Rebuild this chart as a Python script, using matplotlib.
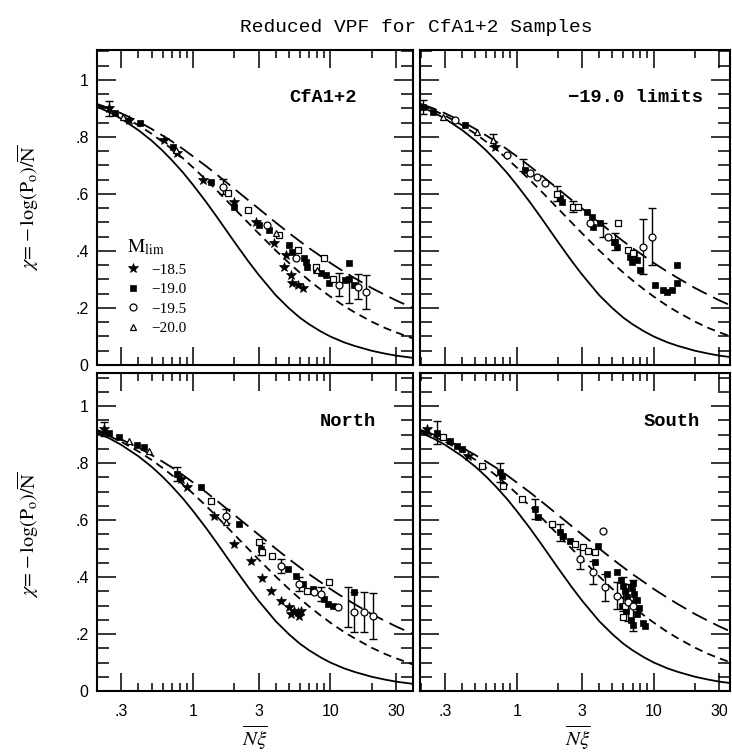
#!/usr/bin/env python3
"""
Reduced void probability function for the CfA1+2 samples.
Four panels: full sample, -19.0 limits, North, South.
"""

import numpy as np
import matplotlib
matplotlib.use('Agg')
import matplotlib.pyplot as plt
from matplotlib.ticker import FixedLocator, LogLocator, MultipleLocator, NullFormatter
from matplotlib.lines import Line2D

plt.rcParams['font.family'] = 'Liberation Sans'
plt.rcParams['mathtext.fontset'] = 'stix'

# ============================================================================
# DATA
# ============================================================================

# model curves: solid / short dash / long dash
curve_nxi = [0.2, 0.25, 0.3, 0.4, 0.5, 0.6, 0.7, 0.85, 1.0, 1.25, 1.5, 2.0, 2.5,
             3.0, 4.0, 5.0, 6.0, 7.0, 8.5, 10.0, 12.5, 15.0, 20.0, 25.0, 30.0, 40.0]
chi_solid = [0.906, 0.885, 0.864, 0.824, 0.787, 0.752, 0.719, 0.674, 0.632, 0.571,
             0.518, 0.432, 0.367, 0.317, 0.245, 0.199, 0.166, 0.143, 0.118, 0.100,
             0.080, 0.067, 0.050, 0.040, 0.033, 0.025]
chi_short = [0.912, 0.893, 0.875, 0.841, 0.811, 0.783, 0.758, 0.724, 0.693, 0.649,
             0.611, 0.549, 0.501, 0.462, 0.402, 0.358, 0.324, 0.297, 0.265, 0.240,
             0.208, 0.185, 0.152, 0.130, 0.115, 0.093]
chi_long = [0.916, 0.899, 0.883, 0.854, 0.828, 0.805, 0.785, 0.757, 0.732, 0.697,
            0.667, 0.618, 0.580, 0.549, 0.500, 0.463, 0.434, 0.410, 0.382, 0.358,
            0.328, 0.305, 0.270, 0.246, 0.227, 0.200]

# --- CfA1+2 (top left) : (Nxi, chi)
cfa_star = [(0.245, 0.90), (0.34, 0.86), (0.62, 0.789), (0.77, 0.743), (1.18, 0.649),
            (2.0, 0.573), (2.87, 0.503), (3.9, 0.427), (4.75, 0.386), (4.6, 0.345),
            (5.16, 0.316), (5.3, 0.287), (5.8, 0.28), (6.28, 0.269)]
cfa_fsq = [(0.27, 0.883), (0.41, 0.848), (0.71, 0.766), (1.35, 0.643), (2.0, 0.555),
           (3.03, 0.491), (3.59, 0.474), (5.02, 0.421), (5.3, 0.398), (6.45, 0.374),
           (6.63, 0.362), (6.82, 0.345), (7.85, 0.333), (8.55, 0.322), (9.3, 0.316),
           (9.8, 0.287), (13.7, 0.357), (12.7, 0.298), (14.9, 0.28), (13.7, 0.30)]
cfa_ocirc = [(1.65, 0.626), (3.48, 0.491), (5.6, 0.374), (11.6, 0.28), (18.2, 0.257),
             (15.8, 0.275)]
cfa_tri = [(0.31, 0.871), (0.75, 0.755), (4.02, 0.462), (8.0, 0.335)]
cfa_osq = [(1.79, 0.602), (2.51, 0.544), (4.24, 0.456), (5.78, 0.404), (9.05, 0.374),
           (7.9, 0.345), (10.5, 0.30)]
cfa_err = [(0.245, 0.90, 0.025), (1.65, 0.626, 0.025), (11.6, 0.281, 0.04),
           (13.7, 0.263, 0.045), (15.8, 0.275, 0.045), (18.2, 0.257, 0.06)]

# --- -19.0 limits (top right)
lim_star = [(0.694, 0.766)]
lim_fsq = [(0.208, 0.906), (0.247, 0.889), (0.42, 0.842), (1.15, 0.684), (2.07, 0.585),
           (2.13, 0.573), (3.24, 0.538), (3.52, 0.52), (3.62, 0.485), (4.05, 0.497),
           (5.22, 0.433), (5.1, 0.43), (5.36, 0.415), (6.7, 0.38), (7.5, 0.368),
           (7.93, 0.333), (10.2, 0.281), (11.7, 0.263), (12.4, 0.257), (13.5, 0.263),
           (14.7, 0.287), (14.7, 0.351), (6.9, 0.36), (7.2, 0.39)]
lim_ocirc = [(0.354, 0.86), (0.845, 0.737), (1.25, 0.673), (1.4, 0.661), (1.61, 0.637),
             (3.43, 0.497), (4.67, 0.45), (8.4, 0.415), (9.66, 0.45)]
lim_tri = [(0.291, 0.871), (0.51, 0.819), (0.675, 0.789)]
lim_osq = [(1.96, 0.60), (2.59, 0.556), (2.81, 0.556), (5.5, 0.497), (6.5, 0.404),
           (7.1, 0.392)]
lim_err = [(0.208, 0.906, 0.025), (0.675, 0.789, 0.02), (1.12, 0.702, 0.02),
           (1.96, 0.602, 0.025), (2.59, 0.556, 0.02), (4.28, 0.474, 0.025),
           (5.22, 0.433, 0.03), (8.4, 0.415, 0.097), (9.66, 0.45, 0.10)]

# --- North (bottom left)
nor_star = [(0.224, 0.919), (0.813, 0.744), (0.908, 0.715), (1.42, 0.615), (1.99, 0.516),
            (2.64, 0.457), (3.2, 0.398), (3.67, 0.352), (4.37, 0.317), (5.0, 0.294),
            (5.45, 0.282), (5.93, 0.264), (5.78, 0.276), (5.2, 0.27), (6.1, 0.28)]
nor_fsq = [(0.244, 0.907), (0.288, 0.89), (0.392, 0.863), (0.439, 0.855), (0.768, 0.761),
           (1.14, 0.715), (2.17, 0.586), (3.12, 0.498), (4.88, 0.428), (5.6, 0.405),
           (6.28, 0.375), (7.43, 0.358), (9.05, 0.323), (9.6, 0.305), (10.4, 0.299),
           (14.9, 0.346)]
nor_ocirc = [(1.73, 0.615), (4.37, 0.44), (5.93, 0.375), (7.65, 0.346), (8.55, 0.34),
             (11.3, 0.294), (14.9, 0.276), (17.5, 0.276), (20.3, 0.264)]
nor_tri = [(0.341, 0.878), (0.477, 0.843), (1.73, 0.592)]
nor_osq = [(1.35, 0.668), (3.03, 0.522), (3.2, 0.487), (3.79, 0.475), (9.7, 0.384),
           (6.8, 0.35)]
nor_err = [(0.224, 0.919, 0.025), (0.768, 0.761, 0.025), (1.73, 0.615, 0.025),
           (3.12, 0.498, 0.02), (4.37, 0.44, 0.025), (5.93, 0.375, 0.025),
           (8.55, 0.34, 0.025), (13.4, 0.294, 0.07), (14.9, 0.276, 0.07),
           (17.5, 0.276, 0.07), (20.3, 0.264, 0.08)]

# --- South (bottom right)
sou_star = [(0.22, 0.919), (0.444, 0.826)]
sou_fsq = [(0.261, 0.907), (0.326, 0.878), (0.365, 0.861), (0.397, 0.849), (0.755, 0.767),
           (0.777, 0.755), (1.36, 0.639), (1.44, 0.609), (2.07, 0.557), (2.19, 0.545),
           (2.45, 0.527), (3.94, 0.51), (3.73, 0.451), (4.53, 0.41), (5.36, 0.416),
           (5.8, 0.39), (6.0, 0.37), (6.2, 0.35), (6.4, 0.33), (6.6, 0.31), (6.9, 0.36),
           (7.2, 0.34), (7.5, 0.32), (7.8, 0.29), (6.3, 0.28), (6.8, 0.25), (7.1, 0.23),
           (8.6, 0.229), (8.3, 0.24), (7.6, 0.27), (5.9, 0.30), (7.0, 0.38)]
sou_ocirc = [(2.9, 0.463), (4.28, 0.562), (3.62, 0.416), (4.41, 0.364), (5.36, 0.334),
             (6.5, 0.311), (7.1, 0.30)]
sou_tri = []
sou_osq = [(0.291, 0.89), (0.555, 0.791), (0.80, 0.72), (1.09, 0.674), (1.80, 0.586),
           (2.66, 0.516), (3.06, 0.504), (3.33, 0.492), (3.73, 0.487), (6.2, 0.30),
           (6.0, 0.26)]
sou_err = [(0.261, 0.907, 0.04), (0.755, 0.767, 0.033), (1.36, 0.639, 0.035),
           (2.07, 0.557, 0.03), (2.9, 0.463, 0.035), (3.62, 0.416, 0.04),
           (4.41, 0.364, 0.047), (5.36, 0.334, 0.047), (6.5, 0.311, 0.065),
           (7.1, 0.30, 0.09), (6.0, 0.34, 0.06)]

legend_labels = ['\u221218.5', '\u221219.0', '\u221219.5', '\u221220.0']
xtick_vals = [0.3, 1, 3, 10, 30]
xtick_text = ['.3', '1', '3', '10', '30']
ytick_vals = [0, 0.2, 0.4, 0.6, 0.8, 1.0]
ytick_text = ['0', '.2', '.4', '.6', '.8', '1']

# ============================================================================
# STYLE
# ============================================================================

STYLES = {
    'star':  dict(marker='*', ms=7.5, mfc='k', mec='k', mew=0.5),
    'fsq':   dict(marker='s', ms=4.2, mfc='k', mec='k', mew=0.5),
    'ocirc': dict(marker='o', ms=5.0, mfc='white', mec='k', mew=0.9),
    'tri':   dict(marker='^', ms=5.0, mfc='white', mec='k', mew=0.9),
    'osq':   dict(marker='s', ms=4.3, mfc='white', mec='k', mew=0.9),
}

W, H = 732, 753

def frac_box(x0, x1, ytop, ybot):
    return [x0 / W, (H - ybot) / H, (x1 - x0) / W, (ybot - ytop) / H]

panels = [
    # label, box, xlim, ylim, series, errs, label pos, bottom labels, left labels
    ('CfA1+2', frac_box(97, 413, 50, 365), (0.2, 40), (0, 1.105),
     dict(star=cfa_star, fsq=cfa_fsq, ocirc=cfa_ocirc, tri=cfa_tri, osq=cfa_osq),
     cfa_err, (0.823, 0.848), False, True),
    ('\u221219.0 limits', frac_box(420, 730, 50, 365), (0.197, 36), (0, 1.105),
     dict(star=lim_star, fsq=lim_fsq, ocirc=lim_ocirc, tri=lim_tri, osq=lim_osq),
     lim_err, (0.913, 0.848), False, False),
    ('North', frac_box(97, 413, 373, 691), (0.2, 40), (0, 1.116),
     dict(star=nor_star, fsq=nor_fsq, ocirc=nor_ocirc, tri=nor_tri, osq=nor_osq),
     nor_err, (0.883, 0.846), True, True),
    ('South', frac_box(420, 730, 373, 691), (0.197, 36), (0, 1.116),
     dict(star=sou_star, fsq=sou_fsq, ocirc=sou_ocirc, tri=sou_tri, osq=sou_osq),
     sou_err, (0.903, 0.846), True, False),
]

# ============================================================================
# PLOT
# ============================================================================

fig = plt.figure(figsize=(W / 100, H / 100), dpi=100)

for (label, box, xlim, ylim, series, errs, lpos, show_x, show_y) in panels:
    ax = fig.add_axes(box)
    ax.set_xscale('log')

    ax.plot(curve_nxi, chi_solid, color='k', lw=1.3)
    ax.plot(curve_nxi, chi_short, color='k', lw=1.3, dashes=(4.5, 3))
    ax.plot(curve_nxi, chi_long, color='k', lw=1.3, dashes=(9, 4))

    if errs:
        ex, ey, ee = np.array(errs).T
        ax.errorbar(ex, ey, yerr=ee, fmt='none', ecolor='k', elinewidth=1.0,
                    capsize=3, capthick=1.0, zorder=3)

    for key in ['star', 'fsq', 'osq', 'tri', 'ocirc']:
        pts = series[key]
        if not pts:
            continue
        px, py = np.array(pts).T
        ax.plot(px, py, ls='none', zorder=4, **STYLES[key])

    ax.set_xlim(*xlim)
    ax.set_ylim(*ylim)

    ax.xaxis.set_major_locator(FixedLocator(xtick_vals))
    ax.xaxis.set_minor_locator(LogLocator(base=10, subs=(2, 3, 4, 5, 6, 7, 8, 9), numticks=20))
    ax.xaxis.set_minor_formatter(NullFormatter())
    ax.yaxis.set_major_locator(MultipleLocator(0.2))
    ax.yaxis.set_minor_locator(MultipleLocator(0.05))

    ax.tick_params(axis='both', which='both', direction='in', top=True, right=True,
                   width=1.1, labelsize=11.5)
    ax.tick_params(axis='x', which='major', length=13, pad=9)
    ax.tick_params(axis='x', which='minor', length=6)
    ax.tick_params(axis='y', which='major', length=14, pad=6)
    ax.tick_params(axis='y', which='minor', length=8.5)

    if show_x:
        ax.set_xticks(xtick_vals, labels=xtick_text)
    else:
        ax.tick_params(axis='x', labelbottom=False)
    if show_y:
        ax.set_yticks(ytick_vals, labels=ytick_text)
    else:
        ax.tick_params(axis='y', labelleft=False)

    for sp in ax.spines.values():
        sp.set_linewidth(1.5)

    ax.text(lpos[0], lpos[1], label, transform=ax.transAxes, ha='right', va='center',
            fontsize=13.5, family='Liberation Mono', fontweight='bold')

    if label == 'CfA1+2':
        handles = [Line2D([], [], ls='none', **STYLES[k]) for k in ['star', 'fsq', 'ocirc', 'tri']]
        leg = ax.legend(handles, legend_labels, title=r'$\mathrm{M_{lim}}$',
                        loc='lower left', bbox_to_anchor=(0.07, 0.07), frameon=False,
                        handlelength=0.8, handletextpad=0.8, labelspacing=0.38,
                        borderpad=0, prop=dict(family='Liberation Serif', size=11),
                        title_fontsize=14, alignment='left')

# y labels
ylab = r'$\chi\!=\!-\mathrm{log(P_o)}/\overline{\mathrm{N}}$'
fig.text(28 / W, 1 - 208 / H, ylab, rotation=90, ha='center', va='center', fontsize=14.5)
fig.text(28 / W, 1 - 535 / H, ylab, rotation=90, ha='center', va='center', fontsize=14.5)

# x labels
for xc in [255, 578]:
    fig.text(xc / W, 1 - 738 / H, r'$\overline{N\xi}$', ha='center', va='center', fontsize=15)

fig.text(416 / W, 1 - 28 / H, 'Reduced VPF for CfA1+2 Samples', ha='center', va='center',
         fontsize=14, family='Liberation Mono')

plt.savefig('out.png', dpi=100)
plt.close()
